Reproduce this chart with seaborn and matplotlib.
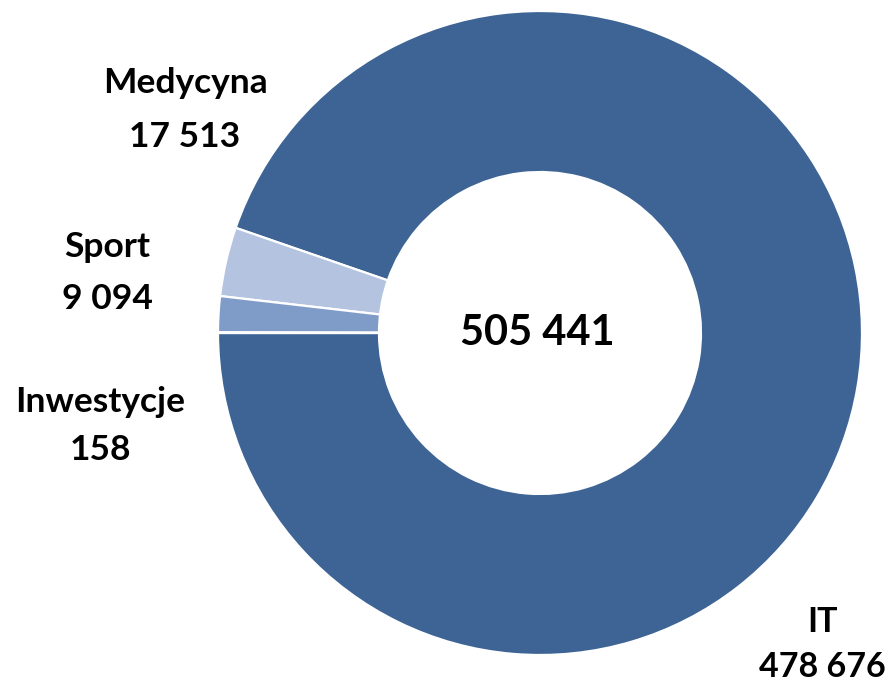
import matplotlib
matplotlib.use("Agg")
import matplotlib.pyplot as plt
import seaborn as sns

# Data
categories = ["IT", "Medycyna", "Sport", "Inwestycje"]
values = [478676, 17513, 9094, 158]
value_labels = ["478 676", "17 513", "9 094", "158"]
total_label = "505 441"
colors = ["#3d6494", "#b4c4e0", "#7f9cc9", "#5b7fb5"]

sns.set_theme(style="white")
plt.rcParams["font.family"] = ["Lato", "DejaVu Sans"]

W, H = 893, 684
fig = plt.figure(figsize=(W / 100, H / 100), dpi=100)
ax = fig.add_axes([0, 0, 1, 1])

cx, cy, R = 540, H - 333, 322
ax.pie(values, colors=colors, startangle=180, counterclock=True,
       center=(cx, cy), radius=R,
       wedgeprops=dict(width=R * 0.5, edgecolor="white", linewidth=1.6))
ax.set_xlim(0, W)
ax.set_ylim(0, H)
ax.set_aspect("equal")
ax.axis("off")

# label positions (pixel coords: center x, baseline y for name, baseline y for value)
label_pos = {
    "Medycyna": (185, 93, 147),
    "Sport": (107, 257, 309),
    "Inwestycje": (100, 412, 460),
    "IT": (822, 632, 677),
}
for cat, val in zip(categories, value_labels):
    x, y1, y2 = label_pos[cat]
    fs = 25.5 if cat != "IT" else 24.5
    ax.text(x, H - y1, cat, ha="center", va="baseline", fontsize=fs,
            fontweight="bold", color="black")
    ax.text(x, H - y2, val, ha="center", va="baseline", fontsize=fs,
            fontweight="bold", color="black")

ax.text(cx - 3, H - 345, total_label, ha="center", va="baseline",
        fontsize=30, fontweight="bold", color="black")

fig.savefig("out.png", dpi=100)
